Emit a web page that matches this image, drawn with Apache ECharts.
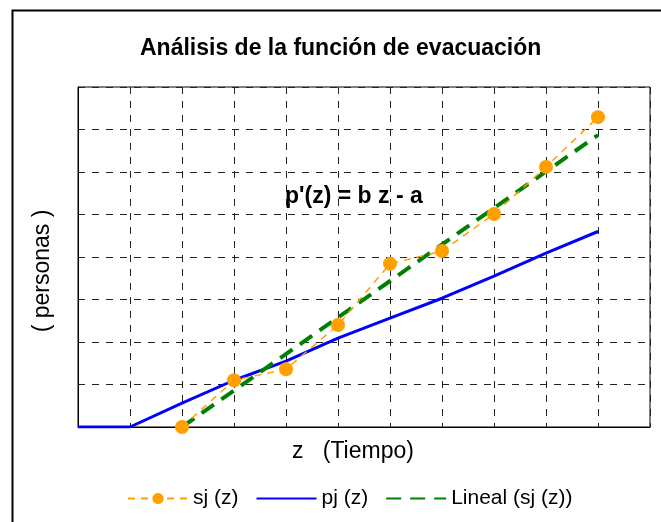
<!DOCTYPE html>
<html>
<head>
<meta charset="utf-8">
<script src="https://cdn.jsdelivr.net/npm/echarts@6/dist/echarts.min.js"></script>
<style>
  html, body { margin: 0; padding: 0; background: #fff; }
  #chart { width: 661px; height: 522px; }
</style>
</head>
<body>
<div id="chart"></div>
<script>
// z values (tiempo) and series
const zSj = [2, 3, 4, 5, 6, 7, 8, 9, 10];
const sjValues = [0, 1.1, 1.36, 2.4, 3.84, 4.14, 5.01, 6.12, 7.29];
const zPj = [0, 1, 2, 3, 4, 5, 6, 7, 8, 9, 10];
const pjValues = [0, 0, 0.56, 1.1, 1.55, 2.09, 2.56, 3.03, 3.55, 4.09, 4.6];
const zLineal = [2, 10];
const linealValues = [0, 6.87];

const pair = (xs, ys) => xs.map((x, i) => [x, ys[i]]);

const font = 'Liberation Sans, Arial, sans-serif';
const chart = echarts.init(document.getElementById('chart'));

const option = {
  animation: false,
  title: {
    text: 'Análisis de la función de evacuación',
    left: 135,
    top: 32,
    textStyle: { fontFamily: font, fontSize: 23, fontWeight: 'bold', color: '#000' }
  },
  grid: {
    left: 78,
    right: 11,
    top: 87,
    bottom: 95,
    show: true,
    borderColor: '#000',
    borderWidth: 1
  },
  xAxis: {
    type: 'value',
    min: 0,
    max: 11,
    interval: 1,
    name: 'z   (Tiempo)',
    nameLocation: 'middle',
    nameGap: 13,
    nameTextStyle: { fontFamily: font, fontSize: 23, color: '#000', padding: [0, 22, 0, 0] },
    axisLine: { show: true, lineStyle: { color: '#000' } },
    axisTick: { show: false },
    axisLabel: { show: false },
    splitLine: { show: true, lineStyle: { color: '#222', type: [7, 7], width: 1 } }
  },
  yAxis: {
    type: 'value',
    min: 0,
    max: 8,
    interval: 1,
    name: '( personas )',
    nameLocation: 'middle',
    nameGap: 24,
    nameTextStyle: { fontFamily: font, fontSize: 23, color: '#000', padding: [0, 28, 0, 0] },
    axisLine: { show: true, lineStyle: { color: '#000' } },
    axisTick: { show: false },
    axisLabel: { show: false },
    splitLine: { show: true, lineStyle: { color: '#222', type: [7, 7], width: 1 } }
  },
  legend: {
    bottom: 8,
    left: 122,
    itemWidth: 60,
    itemHeight: 14,
    itemGap: 17,
    textStyle: { fontFamily: font, fontSize: 21, color: '#000' },
    data: [
      'sj (z)',
      { name: 'pj (z)', itemStyle: { opacity: 0 } },
      { name: 'Lineal (sj (z))', itemStyle: { opacity: 0 } }
    ]
  },
  graphic: [
    {
      type: 'rect',
      shape: { x: 12.5, y: 10.5, width: 700, height: 600 },
      style: { fill: 'none', stroke: '#000', lineWidth: 2 },
      silent: true
    },
    {
      type: 'text',
      left: 285,
      top: 185,
      style: { text: "p'(z) = b z - a", font: 'bold 23px ' + font, fill: '#000' }
    }
  ],
  series: [
    {
      name: 'pj (z)',
      type: 'line',
      data: pair(zPj, pjValues),
      symbol: 'none',
      lineStyle: { color: '#0000ff', width: 3 },
      itemStyle: { color: '#0000ff' },
      z: 2
    },
    {
      name: 'Lineal (sj (z))',
      type: 'line',
      data: pair(zLineal, linealValues),
      symbol: 'none',
      lineStyle: { color: '#008000', width: 4, type: [15, 9] },
      itemStyle: { color: '#008000' },
      z: 3
    },
    {
      name: 'sj (z)',
      type: 'line',
      data: pair(zSj, sjValues),
      symbol: 'circle',
      symbolSize: 14,
      lineStyle: { color: '#ffa000', width: 1.5, type: [7, 6] },
      itemStyle: { color: '#ffa000' },
      z: 4
    }
  ]
};

chart.setOption(option);
</script>
</body>
</html>
